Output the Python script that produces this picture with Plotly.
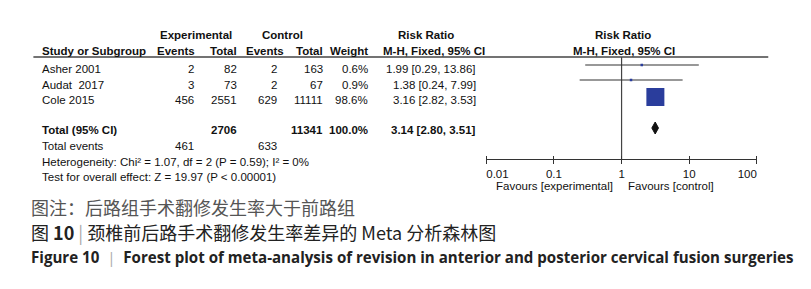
import plotly.graph_objects as go

# ---------------- data ----------------
studies = ["Asher 2001", "Audat  2017", "Cole 2015"]
exp_events = [2, 3, 456]
exp_total = [82, 73, 2551]
ctl_events = [2, 2, 629]
ctl_total = [163, 67, 11111]
weights = [0.6, 0.9, 98.6]
rr = [1.99, 1.38, 3.16]
rr_lo = [0.29, 0.24, 2.82]
rr_hi = [13.86, 7.99, 3.53]

total_exp = 2706
total_ctl = 11341
total_weight = 100.0
total_rr = 3.14
total_lo = 2.80
total_hi = 3.51
total_exp_events = 461
total_ctl_events = 633
heterogeneity = "Heterogeneity: Chi² = 1.07, df = 2 (P = 0.59); I² = 0%"
overall = "Test for overall effect: Z = 19.97 (P < 0.00001)"

tick_vals = [0.01, 0.1, 1, 10, 100]
tick_text = ["0.01", "0.1", "1", "10", "100"]

caption_note = "图注：后路组手术翻修发生率大于前路组"
caption_cn = ("图 <b>10</b> <span style='color:#aaa'>|</span> "
              "颈椎前后路手术翻修发生率差异的 Meta 分析森林图")
caption_en = ("<b>Figure 10</b>  <span style='color:#aaa'>|</span>  "
              "<b>Forest plot of meta-analysis of revision in anterior and posterior cervical fusion surgeries</b>")

# ---------------- layout helpers ----------------
W, H = 811, 289
AX_Y = 159  # pixel row of the x axis line
FONT = "Liberation Sans, Arial, sans-serif"
CJK = "Noto Sans CJK SC"
TS = 11.5
NB = "\u00a0"

def px(x):
    return x / W

def py(y):
    return 1 - y / H

# end labels sit inside the axis, as in the original
shown_ticks = list(tick_text)
shown_ticks[0] = NB * 7 + shown_ticks[0]
shown_ticks[-1] = shown_ticks[-1] + NB * 6

row_text_y = [69, 85, 100]
row_mark_y = [65, 80, 97]
tot_text_y = 130
tot_mark_y = 128

fig = go.Figure()

anns = []

def txt(x, y, s, anchor="left", bold=False, size=TS, color="#111", family=FONT):
    if bold:
        s = "<b>" + s + "</b>"
    anns.append(dict(x=px(x), y=py(y), xref="paper", yref="paper", text=s,
                     showarrow=False, xanchor=anchor, yanchor="middle", borderpad=0,
                     font=dict(family=family, size=size, color=color)))

# headers
txt(183, 35, "Experimental", "center", True)
txt(274, 35, "Control", "center", True)
txt(425, 35, "Risk Ratio", "center", True)
txt(633, 35, "Risk Ratio", "center", True)
txt(20, 51, "Study or Subgroup", "left", True)
txt(183, 51, "Events", "right", True)
txt(228, 51, "Total", "right", True)
txt(277, 51, "Events", "right", True)
txt(318, 51, "Total", "right", True)
txt(366, 51, "Weight", "right", True)
txt(434, 51, "M-H, Fixed, 95% CI", "center", True)
txt(634, 51, "M-H, Fixed, 95% CI", "center", True)

# study rows
for i, s in enumerate(studies):
    y = row_text_y[i]
    txt(20, y, s)
    txt(182, y, str(exp_events[i]), "right")
    txt(228, y, str(exp_total[i]), "right")
    txt(270, y, str(ctl_events[i]), "right")
    txt(318, y, str(ctl_total[i]), "right")
    txt(366, y, f"{weights[i]:.1f}%", "right")
    txt(479, y, f"{rr[i]:.2f} [{rr_lo[i]:.2f}, {rr_hi[i]:.2f}]", "right")

# totals
txt(20, tot_text_y, "Total (95% CI)", "left", True)
txt(228, tot_text_y, str(total_exp), "right", True)
txt(318, tot_text_y, str(total_ctl), "right", True)
txt(366, tot_text_y, f"{total_weight:.1f}%", "right", True)
txt(479, tot_text_y, f"{total_rr:.2f} [{total_lo:.2f}, {total_hi:.2f}]", "right", True)
txt(20, 146, "Total events")
txt(182, 146, str(total_exp_events), "right")
txt(270, 146, str(total_ctl_events), "right")
txt(20, 162, heterogeneity)
txt(20, 177, overall)

# favours
txt(623, 186, "Favours [experimental]", "right")
txt(637, 186, "Favours [control]", "left")

# captions
txt(8, 207, caption_note, "left", False, 18, "#555", CJK)
txt(8, 232, caption_cn, "left", False, 18, "#222", CJK)
txt(8, 257, caption_en, "left", False, 15.1, "#222", "Open Sans")

# ---------------- forest marks ----------------
for i in range(len(studies)):
    fig.add_trace(go.Scatter(x=[rr_lo[i], rr_hi[i]], y=[row_mark_y[i]] * 2,
                             mode="lines", line=dict(color="#333", width=1.2),
                             hoverinfo="skip", showlegend=False))
sizes = [max(2.5, 18 * (w / max(weights)) ** 0.5) for w in weights]
fig.add_trace(go.Scatter(x=rr, y=row_mark_y, mode="markers",
                         marker=dict(symbol="square", size=sizes, color="#2a3d9c",
                                     opacity=1, line=dict(width=0)),
                         opacity=1, showlegend=False, hoverinfo="skip"))
# diamond
dh = 6
fig.add_trace(go.Scatter(x=[total_lo, total_rr, total_hi, total_rr, total_lo],
                         y=[tot_mark_y, tot_mark_y - dh, tot_mark_y, tot_mark_y + dh, tot_mark_y],
                         mode="lines", fill="toself", fillcolor="#111",
                         line=dict(color="#111", width=1), showlegend=False, hoverinfo="skip"))
# invisible trace for upper tick axis
fig.add_trace(go.Scatter(x=tick_vals, y=[AX_Y] * len(tick_vals), xaxis="x2", mode="markers",
                         marker=dict(opacity=0), showlegend=False, hoverinfo="skip"))

shapes = [
    # header rule
    dict(type="line", xref="paper", yref="paper", x0=px(12), x1=px(786), y0=py(57), y1=py(57),
         line=dict(color="#444", width=1.5)),
    # line of no effect
    dict(type="line", xref="x", yref="y", x0=1, x1=1, y0=57, y1=AX_Y, layer="below",
         line=dict(color="#444", width=1.2)),
]

dom_bottom = 1 - AX_Y / H
xdom = [px(489), px(774)]
fig.update_layout(
    width=W, height=H, margin=dict(l=0, r=0, t=0, b=0),
    paper_bgcolor="white", plot_bgcolor="rgba(0,0,0,0)",
    xaxis=dict(type="log", range=[-2, 2], domain=xdom, anchor="y",
               showline=True, linecolor="#333", linewidth=1.3,
               ticks="outside", ticklen=4, tickwidth=1.3, tickcolor="#333",
               tickvals=tick_vals, ticktext=shown_ticks, showgrid=False, zeroline=False,
               tickfont=dict(family=FONT, size=TS, color="#111")),
    xaxis2=dict(type="log", range=[-2, 2], domain=xdom, overlaying="x", side="top",
                anchor="free", position=dom_bottom, matches="x",
                showline=False, ticks="outside", ticklen=3, tickwidth=1.3, tickcolor="#333",
                tickvals=tick_vals, showticklabels=False, showgrid=False, zeroline=False),
    yaxis=dict(range=[AX_Y, 0], domain=[dom_bottom, 1], visible=False, showgrid=False),
    annotations=anns, shapes=shapes,
)

fig.write_html("out.html", config={"displayModeBar": False},
               post_script="document.body.style.margin='0';")
